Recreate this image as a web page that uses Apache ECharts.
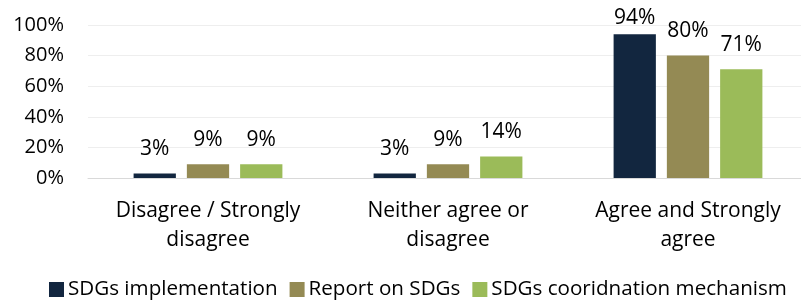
<!DOCTYPE html>
<html>
<head>
<meta charset="utf-8">
<script src="https://cdn.jsdelivr.net/npm/echarts@6/dist/echarts.min.js"></script>
<style>
  html, body { margin: 0; padding: 0; background: #fff; overflow: hidden; }
  /* plot area in the source runs a few pixels past the right edge */
  #chart { width: 808px; height: 306px; }
</style>
</head>
<body>
<div id="chart"></div>
<script>
const categories = ['Disagree / Strongly\ndisagree', 'Neither agree or\ndisagree', 'Agree and Strongly\nagree']
const seriesNames = ['SDGs implementation', 'Report on SDGs', 'SDGs cooridnation mechanism']
const implementation = [3, 3, 94]
const report = [9, 9, 80]
const coordination = [9, 14, 71]
const yTicks = [0, 20, 40, 60, 80, 100]
const colors = ['#12263F', '#948A54', '#9BBB59']

const font = 'Open Sans'
const chart = echarts.init(document.getElementById('chart'))
const values = [implementation, report, coordination]

chart.setOption({
  animation: false,
  color: colors,
  grid: { left: 88, top: 25, right: 0, bottom: 128, containLabel: false },
  legend: {
    top: 279,
    left: 49,
    right: 0,
    padding: 0,
    itemWidth: 15,
    itemHeight: 15,
    itemGap: 12,
    icon: 'rect',
    textStyle: { fontFamily: font, fontSize: 20.6, color: '#000', padding: [0, 0, 0, -1] },
    data: seriesNames,
  },
  xAxis: {
    type: 'category',
    data: categories,
    axisLine: { lineStyle: { color: '#d9d9d9', width: 1 } },
    axisTick: { show: false },
    axisLabel: {
      interval: 0,
      margin: 19,
      fontFamily: font,
      fontSize: 21,
      lineHeight: 29,
      color: '#000',
    },
  },
  yAxis: {
    type: 'value',
    min: yTicks[0],
    max: yTicks[yTicks.length - 1],
    interval: 20,
    axisLine: { show: false },
    axisTick: { show: false },
    splitLine: { lineStyle: { color: '#eeeeee', width: 1 } },
    axisLabel: {
      margin: 24,
      fontFamily: font,
      fontSize: 20,
      color: '#000',
      formatter: '{value}%',
    },
  },
  series: seriesNames.map((name, i) => ({
    name,
    type: 'bar',
    // labels near the top get pushed down to stay inside the plot
    data: values[i].map((v) => (v > 90 ? { value: v, label: { distance: 6 } } : v)),
    barGap: '26%',
    barCategoryGap: '38%',
    label: {
      show: true,
      position: 'top',
      distance: 14,
      fontFamily: font,
      fontSize: 21,
      color: '#000',
      formatter: '{c}%',
    },
  })),
})
</script>
</body>
</html>
